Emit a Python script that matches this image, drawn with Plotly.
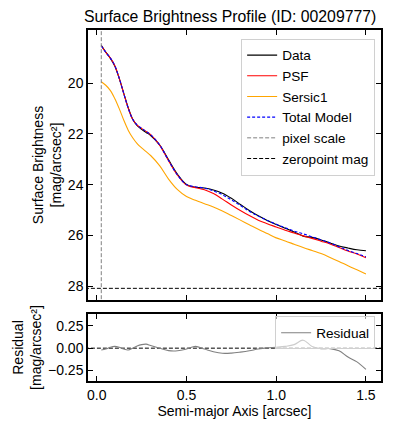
import plotly.graph_objects as go

# semi-major axis grid [arcsec]
sma = [0.025, 0.05, 0.075, 0.1, 0.125, 0.15, 0.175, 0.2, 0.225, 0.25, 0.275, 0.3,
       0.35, 0.4, 0.45, 0.5, 0.55, 0.6, 0.65, 0.7, 0.75, 0.8, 0.85, 0.9, 0.95,
       1.0, 1.05, 1.1, 1.15, 1.2, 1.25, 1.3, 1.35, 1.4, 1.45, 1.5]

data_mag = [18.50, 18.77, 19.01, 19.32, 19.81, 20.39, 20.96, 21.42, 21.67, 21.82, 21.94, 22.06,
            22.43, 23.02, 23.59, 23.99, 24.10, 24.13, 24.21, 24.34, 24.54, 24.78, 25.02, 25.23, 25.41,
            25.57, 25.72, 25.87, 26.03, 26.08, 26.18, 26.30, 26.42, 26.50, 26.57, 26.61]

psf_mag = [18.52, 18.78, 19.00, 19.30, 19.80, 20.40, 20.98, 21.42, 21.65, 21.78, 21.90, 22.03,
           22.44, 23.06, 23.63, 24.02, 24.12, 24.20, 24.35, 24.57, 24.80, 25.02, 25.22, 25.40, 25.54,
           25.67, 25.80, 25.91, 26.02, 26.12, 26.23, 26.34, 26.48, 26.62, 26.74, 26.88]

sersic_mag = [19.94, 20.08, 20.28, 20.60, 21.00, 21.45, 21.85, 22.15, 22.38, 22.55, 22.70, 22.85,
              23.25, 23.78, 24.20, 24.47, 24.62, 24.75, 24.88, 25.04, 25.22, 25.40, 25.58, 25.76, 25.93,
              26.10, 26.22, 26.35, 26.48, 26.60, 26.72, 26.87, 27.03, 27.20, 27.36, 27.52]

total_mag = [18.52, 18.78, 19.00, 19.30, 19.80, 20.40, 20.98, 21.42, 21.65, 21.78, 21.90, 22.03,
             22.43, 23.05, 23.62, 24.00, 24.08, 24.14, 24.25, 24.40, 24.60, 24.82, 25.05, 25.24, 25.41,
             25.56, 25.70, 25.83, 25.94, 26.06, 26.18, 26.30, 26.45, 26.60, 26.72, 26.85]

residual = [-0.02, -0.01, 0.01, 0.02, 0.01, -0.01, -0.02, 0.0, 0.025, 0.04, 0.045, 0.03,
            0.0, -0.028, -0.03, -0.01, 0.02, -0.01, -0.04, -0.058, -0.056, -0.045, -0.03, -0.01, 0.003,
            0.01, 0.02, 0.04, 0.09, 0.02, -0.005, -0.005, -0.03, -0.1, -0.155, -0.24]

pixel_scale = 0.025
zeropoint = 28.09

FONT = "Liberation Sans, Arial, sans-serif"

fig = go.Figure()

fig.add_trace(go.Scatter(x=sma, y=data_mag, name="Data", mode="lines",
                         line=dict(color="black", width=1.1, shape="spline")))
fig.add_trace(go.Scatter(x=sma, y=psf_mag, name="PSF", mode="lines",
                         line=dict(color="red", width=1.1, shape="spline")))
fig.add_trace(go.Scatter(x=sma, y=sersic_mag, name="Sersic1", mode="lines",
                         line=dict(color="orange", width=1.1, shape="spline")))
fig.add_trace(go.Scatter(x=sma, y=total_mag, name="Total Model", mode="lines",
                         line=dict(color="blue", width=1.1, dash="3px,2px", shape="spline")))
fig.add_trace(go.Scatter(x=[pixel_scale, pixel_scale], y=[17.0, 29.5], name="pixel scale", mode="lines",
                         line=dict(color="gray", width=1, dash="4px,2px")))
fig.add_trace(go.Scatter(x=[-0.2, 1.8], y=[zeropoint, zeropoint], name="zeropoint mag", mode="lines",
                         line=dict(color="black", width=1, dash="4px,2px")))

# residual panel
fig.add_trace(go.Scatter(x=[-0.2, 1.8], y=[0, 0], mode="lines", showlegend=False,
                         line=dict(color="black", width=1, dash="4px,2px"),
                         xaxis="x2", yaxis="y2"))
fig.add_trace(go.Scatter(x=sma, y=residual, name="Residual", mode="lines",
                         line=dict(color="gray", width=1.1, shape="spline"),
                         xaxis="x2", yaxis="y2", legend="legend2"))

axis_common = dict(showgrid=False, zeroline=False, showline=True, linecolor="black", linewidth=1.5,
                   mirror="allticks", ticks="inside", ticklen=5, tickwidth=1.2, tickcolor="black",
                   tickfont=dict(family=FONT, size=14, color="black"))

fig.update_layout(
    width=396, height=432,
    margin=dict(l=88, r=15, t=30, b=51),
    paper_bgcolor="white", plot_bgcolor="white",
    font=dict(family=FONT, size=14, color="black"),
    title=dict(text="Surface Brightness Profile (ID: 00209777)", x=0.485, xref="paper",
               xanchor="center", y=0.962, yanchor="middle", font=dict(size=15.8)),
    xaxis=dict(domain=[0, 1], anchor="y", range=[-0.049, 1.584], tickvals=[0, 0.5, 1.0, 1.5],
               showticklabels=False, **axis_common),
    yaxis=dict(domain=[0.2308, 1], anchor="x", range=[28.55, 17.9], tickvals=[20, 22, 24, 26, 28],
               title=dict(text="Surface Brightness<br>[mag/arcsec²]", standoff=3, font=dict(size=14)),
               **axis_common),
    xaxis2=dict(domain=[0, 1], anchor="y2", range=[-0.049, 1.584], tickvals=[0, 0.5, 1.0, 1.5],
                ticktext=["0.0", "0.5", "1.0", "1.5"],
                title=dict(text="Semi-major Axis [arcsec]", standoff=4, font=dict(size=14)),
                **axis_common),
    yaxis2=dict(domain=[0, 0.1909], anchor="x2", range=[-0.37, 0.385], tickvals=[0.25, 0, -0.25],
                ticktext=["0.25", "0.00", "\u22120.25"],
                title=dict(text="Residual<br>[mag/arcsec²]", standoff=3, font=dict(size=14)),
                **axis_common),
    legend=dict(x=0.98, y=0.975, xanchor="right", yanchor="top", bgcolor="rgba(255,255,255,0.8)",
                bordercolor="#d0d0d0", borderwidth=1, itemwidth=30, font=dict(size=13.6)),
    legend2=dict(x=0.98, y=0.184, xanchor="right", yanchor="top", bgcolor="rgba(255,255,255,0.6)",
                 bordercolor="#d0d0d0", borderwidth=1, itemwidth=30, font=dict(size=13.6)),
)

# page body has a default 8px margin; drop it so the figure sits at the window origin
fig.write_html("out.html", config={"displayModeBar": False},
               post_script="document.body.style.margin='0';")
